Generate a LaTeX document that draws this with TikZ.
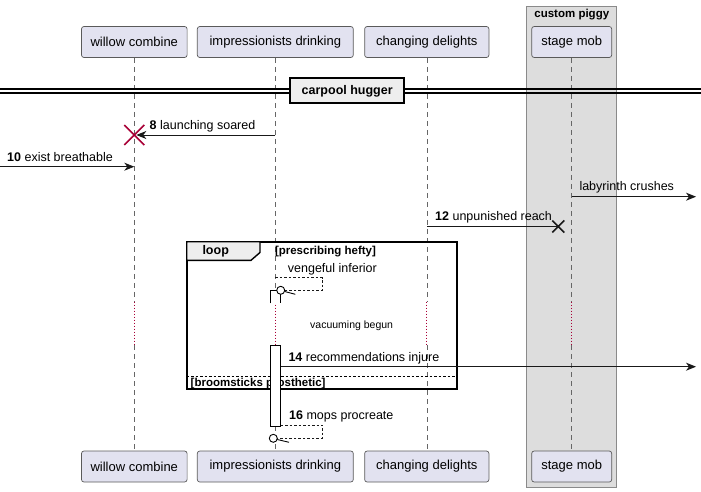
\documentclass[tikz,border=0pt]{standalone}
\usepackage{fontspec}
\setmainfont{Liberation Sans}
\usetikzlibrary{arrows.meta}
\definecolor{partfill}{HTML}{E2E2F0}
\definecolor{partdraw}{HTML}{5A5A5A}
\definecolor{grpfill}{HTML}{DDDDDD}
\definecolor{grpdraw}{HTML}{8A8A8A}
\definecolor{crim}{HTML}{A80036}
\definecolor{tabfill}{HTML}{EEEEEE}
\tikzset{
  part/.style={draw=partdraw, fill=partfill, rounded corners=2.5pt, line width=0.7pt,
    minimum height=31pt, inner sep=0pt, font=\fontsize{13}{15}\selectfont},
  lifeline/.style={draw=gray!80!black, dash pattern=on 5pt off 4pt, line width=0.6pt},
  delayline/.style={draw=crim, dash pattern=on 1pt off 2pt, line width=0.9pt},
  msg/.style={draw=black!90, line width=0.9pt, -{Stealth[length=10pt,width=8pt,inset=3pt]}},
  selfmsg/.style={draw=black!90, line width=0.8pt, dash pattern=on 2.5pt off 2pt},
  lbl/.style={anchor=west, inner sep=0pt, font=\fontsize{12.5}{14}\selectfont},
  boldlbl/.style={anchor=west, inner sep=0pt, font=\bfseries\fontsize{11.5}{13}\selectfont},
  actbar/.style={draw=black, fill=white, line width=0.9pt},
}
\begin{document}
\begin{tikzpicture}[x=1pt,y=-1pt]
\useasboundingbox (0,0) rectangle (701,492);
% group box
\node[draw=grpdraw, fill=grpfill, line width=0.8pt, minimum width=90.4pt, minimum height=481.7pt, inner sep=0pt] (grp) at (571.5,246.85) {};
\node[font=\bfseries\fontsize{11.5}{13}\selectfont, inner sep=0pt] (grplbl) at (571.8,15) {custom piggy};
% participants
\node[part, minimum width=105.6pt] (wt) at (134.3,42) {willow combine};
\node[part, minimum width=156pt] (it) at (275.3,42) {impressionists drinking};
\node[part, minimum width=124.3pt] (ct) at (426.8,42) {changing delights};
\node[part, minimum width=80pt] (st) at (571.7,42) {stage mob};
\node[part, minimum width=105.6pt] (wb) at (134.3,466.5) {willow combine};
\node[part, minimum width=156pt] (ib) at (275.3,466.5) {impressionists drinking};
\node[part, minimum width=124.3pt] (cb) at (426.8,466.5) {changing delights};
\node[part, minimum width=80pt] (sb) at (571.7,466.5) {stage mob};
% lifelines with delay
\foreach \p/\q in {wt/wb,it/ib,ct/cb,st/sb}{
  \draw[lifeline] (\p.south) -- (\p.south |- 0,301.7);
  \draw[delayline] (\p.south |- 0,301.7) -- (\p.south |- 0,345);
  \draw[lifeline] (\p.south |- 0,345) -- (\q.north);
}
% separator
\draw[line width=1.1pt] (0,89) -- (701,89) (0,93) -- (701,93);
\node[draw=black, fill=tabfill, line width=2pt, minimum width=114pt, minimum height=25pt, inner sep=0pt, font=\bfseries\fontsize{12.5}{14}\selectfont] (sep) at (347.2,90.8) {carpool hugger};
% message 8 with destroy
\coordinate (m8s) at (it.south |- 0,135);
\coordinate (m8e) at (wt.south |- 0,135);
\draw[msg] (m8s) -- ([xshift=2pt]m8e);
\draw[crim, line width=1.6pt] ([shift={(-10,-10)}]m8e) -- ([shift={(10,10)}]m8e) ([shift={(-10,10)}]m8e) -- ([shift={(10,-10)}]m8e);
\node[lbl] (l8) at (149.5,126.5) {\textbf{8} launching soared};
% message 10
\coordinate (m10s) at (0,166.7);
\coordinate (m10e) at (wt.south |- 0,166.7);
\draw[msg] (m10s) -- (m10e);
\node[lbl] (l10) at (7,156.7) {\textbf{10} exist breathable};
% labyrinth crushes
\coordinate (mls) at (st.south |- 0,196.7);
\coordinate (mle) at (696,196.7);
\draw[msg] (mls) -- (mle);
\node[lbl] (ll) at (579.3,187.3) {labyrinth crushes};
% message 12 lost
\coordinate (m12s) at (ct.south |- 0,226.5);
\coordinate (m12e) at (558.3,226.5);
\draw[draw=black!90, line width=0.9pt] (m12s) -- (m12e);
\draw[black!90, line width=1.6pt] ([shift={(-6,-6)}]m12e) -- ([shift={(6,6)}]m12e) ([shift={(-6,6)}]m12e) -- ([shift={(6,-6)}]m12e);
\node[lbl] (l12) at (435,217.3) {\textbf{12} unpunished reach};
% loop frame
\draw[line width=2pt] (186.7,241.7) rectangle (457.3,389.3);
\draw[fill=tabfill, line width=1.4pt] (186.7,241.7) -- (260,241.7) -- (260,252.5) -- (251,260.3) -- (186.7,260.3) -- cycle;
\node[font=\bfseries\fontsize{12.5}{14}\selectfont, inner sep=0pt] (looplbl) at (215.7,251) {loop};
\node[boldlbl] (cond1) at (274.8,251.5) {[prescribing hefty]};
\draw[line width=0.8pt, dash pattern=on 2.5pt off 2pt] (186.7,376) -- (457.3,376);
\node[boldlbl] (cond2) at (190.5,384) {[broomsticks prosthetic]};
% activation bars
\draw[actbar] (270,303.3) -- (270,290.3) -- (280.5,290.3) -- (280.5,303.3);
\draw[actbar] (270,345) rectangle (280.5,426);
\coordinate (actA) at (280.5,366.7);
% vengeful inferior self message
\coordinate (v1) at (it.south |- 0,277.7);
\coordinate (vc) at (280.7,290.3);
\draw[selfmsg] (v1) -- (322.3,277.7) -- (322.3,290.3) -- ([xshift=4pt]vc);
\draw[line width=0.9pt, fill=white] (vc) circle (4pt);
\draw[line width=0.9pt] ([shift={(4,1.2)}]vc) -- ([shift={(14.6,4)}]vc);
\node[lbl] (lv) at (287.7,269) {vengeful inferior};
% delay text
\node[lbl, font=\fontsize{10.5}{12}\selectfont] (ld) at (310,325.7) {vacuuming begun};
% message 14
\coordinate (m14e) at (696,366.7);
\draw[msg] (actA) -- (m14e);
\node[lbl] (l14) at (288.3,358.3) {\textbf{14} recommendations injure};
% message 16 self
\coordinate (s1) at (280.5,425);
\coordinate (sc) at (273.3,438.3);
\draw[selfmsg] (s1) -- (322.3,425) -- (322.3,438.3) -- ([xshift=4pt]sc);
\draw[line width=0.9pt, fill=white] (sc) circle (4pt);
\draw[line width=0.9pt] ([shift={(4,1.2)}]sc) -- ([shift={(15.7,4)}]sc);
\node[lbl] (l16) at (289,416) {\textbf{16} mops procreate};
\end{tikzpicture}
\end{document}
